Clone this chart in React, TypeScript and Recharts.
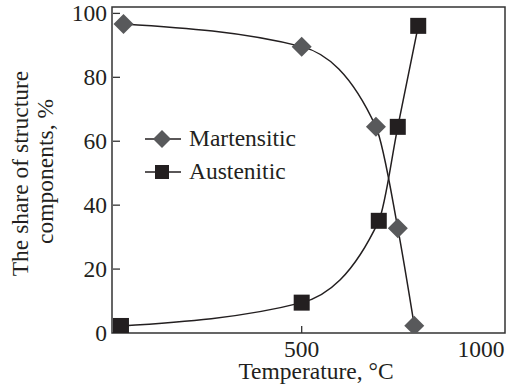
import React from 'react';
import { LineChart, Line, XAxis, YAxis, ReferenceArea, Legend, Label } from 'recharts';

const martTemp = [3, 500, 707, 768, 814];
const martShare = [96.7, 89.6, 64.5, 32.8, 2.3];
const austTemp = [-4, 500, 715, 768, 825];
const austShare = [2.2, 9.5, 35.1, 64.5, 96.1];
const xTicks = [500, 1000];
const yTicks = [0, 20, 40, 60, 80, 100];
const xDomain: [number, number] = [-29, 1067];
const yDomain: [number, number] = [0, 102];
const seriesNames = ['Martensitic', 'Austenitic'];
const xTitle = 'Temperature, °C';
const yTitle = ['The share of structure', 'components, %'];

const martData = martTemp.map((t, i) => ({ t, v: martShare[i] }));
const austData = austTemp.map((t, i) => ({ t, v: austShare[i] }));

const FONT = '"Liberation Serif", "Times New Roman", serif';
const TXT = '#231f20';
const MART = '#58595b';
const AUST = '#231f20';

const Diamond = (props: any) => {
  const { cx, cy } = props;
  if (cx == null || cy == null) return null;
  const r = 10;
  return <polygon points={`${cx},${cy - r} ${cx + r},${cy} ${cx},${cy + r} ${cx - r},${cy}`} fill={MART} />;
};
const Square = (props: any) => {
  const { cx, cy } = props;
  if (cx == null || cy == null) return null;
  return <rect x={cx - 8} y={cy - 8} width={16} height={16} fill={AUST} />;
};

const YTick = (props: any) => {
  const { x, y, payload } = props;
  return (
    <g>
      {payload.value !== 0 && <line x1={x + 6} x2={x + 13} y1={y} y2={y} stroke="#333" strokeWidth={1.3} />}
      <text x={x} y={y} dy="0.34em" textAnchor="end" fontSize={23.5} fontFamily={FONT} fill={TXT}>{payload.value}</text>
    </g>
  );
};
const XTick = (props: any) => {
  const { x, y, payload } = props;
  return (
    <g>
      {payload.value === 500 && <line x1={x} x2={x} y1={y - 7} y2={y} stroke="#333" strokeWidth={1.3} />}
      <text x={x} y={y} dy={24} textAnchor="middle" fontSize={23.5} fontFamily={FONT} fill={TXT}>{payload.value}</text>
    </g>
  );
};

const LegendContent = () => (
  <div style={{ fontFamily: FONT, color: TXT, fontSize: 23.5 }}>
    {seriesNames.map((n, i) => (
      <div key={n} style={{ display: 'flex', alignItems: 'center', height: 33 }}>
        <svg width={36} height={22} style={{ marginRight: 8 }}>
          <line x1={0} x2={36} y1={11} y2={11} stroke={AUST} strokeWidth={1.5} />
          {i === 0 ? (
            <polygon points="17,2 26,11 17,20 8,11" fill={MART} />
          ) : (
            <rect x={10} y={4} width={14} height={14} fill={AUST} />
          )}
        </svg>
        <span style={{ lineHeight: '33px', whiteSpace: 'nowrap' }}>{n}</span>
      </div>
    ))}
  </div>
);

export default function App() {
  return (
    <div style={{ position: 'absolute', left: 0, top: 0, width: 506, height: 386, background: '#fff' }}>
      <LineChart width={506} height={386} margin={{ top: 7, right: 1, bottom: 0, left: 0 }}>
        <XAxis
          dataKey="t"
          type="number"
          domain={xDomain}
          ticks={xTicks}
          allowDataOverflow
          axisLine={false}
          tickLine={false}
          tickSize={0}
          tickMargin={0}
          tick={<XTick />}
          height={53}
          interval={0}
        >
          <Label
            content={() => (
              <text x={316} y={379} textAnchor="middle" fontSize={23.5} fontFamily={FONT} fill={TXT}>{xTitle}</text>
            )}
          />
        </XAxis>
        <YAxis
          dataKey="v"
          type="number"
          domain={yDomain}
          ticks={yTicks}
          allowDataOverflow
          axisLine={false}
          tickLine={false}
          tickSize={0}
          tickMargin={5}
          tick={<YTick />}
          width={112}
          interval={0}
        >
          <Label
            content={() => (
              <g fontSize={23.5} fontFamily={FONT} fill={TXT}>
                <text x={28} y={173.5} textAnchor="middle" transform="rotate(-90 28 173.5)">{yTitle[0]}</text>
                <text x={52.5} y={171.5} textAnchor="middle" transform="rotate(-90 52.5 171.5)">{yTitle[1]}</text>
              </g>
            )}
          />
        </YAxis>
        <ReferenceArea x1={xDomain[0]} x2={xDomain[1]} y1={yDomain[0]} y2={yDomain[1]} fill="none" stroke="#333" strokeWidth={1.5} ifOverflow="visible" />
        <Legend
          layout="vertical"
          align="center"
          verticalAlign="middle"
          content={<LegendContent />}
          wrapperStyle={{ left: 145, top: 122, width: 'auto' }}
        />
        <Line
          data={martData}
          dataKey="v"
          name={seriesNames[0]}
          type="monotone"
          stroke={AUST}
          strokeWidth={1.5}
          dot={<Diamond />}
          activeDot={false}
          isAnimationActive={false}
        />
        <Line
          data={austData}
          dataKey="v"
          name={seriesNames[1]}
          type="monotone"
          stroke={AUST}
          strokeWidth={1.5}
          dot={<Square />}
          activeDot={false}
          isAnimationActive={false}
        />
      </LineChart>
    </div>
  );
}
